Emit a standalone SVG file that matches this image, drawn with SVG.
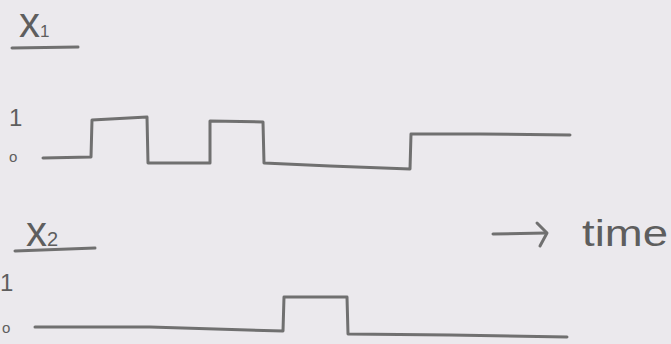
<svg xmlns="http://www.w3.org/2000/svg" width="671" height="344" viewBox="0 0 671 344">
<style>
.w{fill:none;stroke:#707070;stroke-width:3;stroke-linejoin:round;stroke-linecap:round}
.t{font-family:"Liberation Sans",Arial,sans-serif;fill:#5e5e5e}
</style>
<rect width="671" height="344" fill="#ebe9ed"/>
<g id="x1-label">
<text class="t" x="19" y="37" font-size="42">x<tspan font-size="17">1</tspan></text>
<path class="w" d="M12 48 L78 47"/>
</g>
<g id="x1-levels">
<text class="t" x="9" y="126" font-size="24">1</text>
<text class="t" x="9" y="162" font-size="15">o</text>
</g>
<g id="x2-label">
<text class="t" x="26" y="246" font-size="42">x<tspan font-size="20">2</tspan></text>
<path class="w" d="M15 251 L95 248"/>
</g>
<g id="x2-levels">
<text class="t" x="0" y="291" font-size="24">1</text>
<text class="t" x="2" y="333" font-size="15">o</text>
</g>
<g id="waveforms">
<polyline id="x1-wave" class="w" points="43,158 91,157 92,120 147,117 148,163 210,163 210,121 263,122 264,163 330,166 410,169 411,134 480,134 570,135"/>
<polyline id="x2-wave" class="w" points="35,327 150,327 283,331 284,297 347,297 348,334 450,335 567,337"/>
</g>
<g id="time-axis">
<path class="w" d="M493 234 L546 233"/>
<path class="w" d="M537 223 L547 233 L540 246"/>
<text class="t" x="582" y="246" font-size="37" textLength="86" lengthAdjust="spacingAndGlyphs">time</text>
</g>
</svg>
